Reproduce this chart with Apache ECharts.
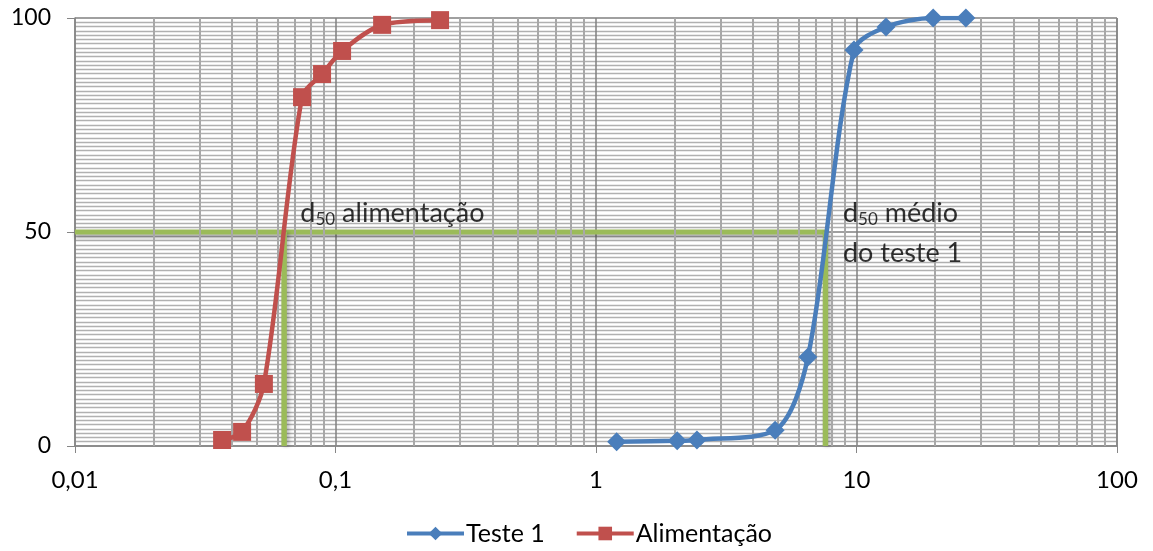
<!DOCTYPE html>
<html><head><meta charset="utf-8">
<script src="https://cdn.jsdelivr.net/npm/echarts@6/dist/echarts.min.js"></script>
<style>html,body{margin:0;padding:0;background:#fff}#c{width:1153px;height:551px}</style>
</head><body><div id="c"></div>
<script>
const teste1X = [1.20, 2.05, 2.44, 4.87, 6.51, 9.78, 12.98, 19.7, 26.3];
const teste1Y = [1.0, 1.2, 1.4, 3.7, 20.8, 92.5, 97.9, 100, 100];
const alimX = [0.0367, 0.0438, 0.0531, 0.0744, 0.0888, 0.106, 0.151, 0.252];
const alimY = [1.4, 3.3, 14.5, 81.5, 86.9, 92.3, 98.4, 99.5];
const d50Alim = 0.0635;
const d50Teste = 7.6;
const xTicks = [0.01, 0.1, 1, 10, 100];
const yTicks = [0, 50, 100];

const FONT = 'Lato';
const minorX = [];
for (let d = 0; d < xTicks.length - 1; d++) {
  for (let k = 2; k <= 9; k++) minorX.push(+(xTicks[d] * k).toPrecision(3));
}
const chart = echarts.init(document.getElementById('c'));
const green = '#9bbb59';
chart.setOption({
  animation: false,
  textStyle: {fontFamily: FONT},
  grid: {left: 75, right: 36, top: 18, bottom: 105},
  legend: {
    bottom: 0, left: 400, itemWidth: 57, itemHeight: 17, itemGap: 30,
    data: ['Teste 1', 'Alimentação'],
    lineStyle: {width: 4},
    textStyle: {fontSize: 25, color: '#000', fontFamily: FONT, padding: [0, 0, 0, -3]}
  },
  xAxis: {
    type: 'log', logBase: 10, min: 0.01, max: 100,
    axisLine: {show: true, lineStyle: {color: '#868686', width: 1.5}},
    axisTick: {show: true, length: 7, lineStyle: {color: '#868686'}},
    axisLabel: {fontSize: 24, color: '#000', margin: 22,
      formatter: v => String(+v.toPrecision(3)).replace('.', ',')},
    splitLine: {show: true, lineStyle: {color: '#808080', width: 1.5}},
    minorTick: {show: false}, minorSplitLine: {show: false}
  },
  yAxis: {
    type: 'value', min: 0, max: 100, interval: 50,
    axisLine: {show: true, lineStyle: {color: '#868686', width: 1.5}},
    axisTick: {show: true, length: 8, lineStyle: {color: '#868686'}},
    axisLabel: {fontSize: 23, color: '#000', margin: 24},
    splitLine: {show: true, lineStyle: {color: '#808080', width: 1.5}},
    minorTick: {show: false, splitNumber: 50},
    minorSplitLine: {show: true, lineStyle: {color: '#b0b0b0', width: 1.3}}
  },
  series: [
    {
      name: 'grid', type: 'line', data: [], silent: true,
      markLine: {silent: true, symbol: 'none', label: {show: false},
        lineStyle: {color: '#a8a8a8', width: 2, type: 'solid'},
        data: minorX.map(v => ({xAxis: v}))}
    },
    {
      name: 'vr', type: 'line', data: [[100, 0], [100, 100]], symbol: 'none', silent: true,
      lineStyle: {color: '#868686', width: 1.5}
    },
    {
      name: 'g1', type: 'line', data: [[0.01, 50], [d50Teste, 50]], symbol: 'none', silent: true,
      lineStyle: {color: green, width: 5, shadowColor: 'rgba(0,0,0,0.35)', shadowBlur: 4, shadowOffsetY: 3}
    },
    {
      name: 'g2', type: 'line', data: [[d50Alim, 50], [d50Alim, 0]], symbol: 'none', silent: true,
      lineStyle: {color: green, width: 5.5, shadowColor: 'rgba(0,0,0,0.3)', shadowBlur: 4, shadowOffsetX: 2}
    },
    {
      name: 'g3', type: 'line', data: [[d50Teste, 50], [d50Teste, 0]], symbol: 'none', silent: true,
      lineStyle: {color: green, width: 5.5, shadowColor: 'rgba(0,0,0,0.3)', shadowBlur: 4, shadowOffsetX: 2}
    },
    {
      name: 'Teste 1', type: 'line', smooth: 0.3, symbol: 'diamond', symbolSize: 19,
      data: teste1X.map((x, i) => [x, teste1Y[i]]),
      itemStyle: {color: '#4a7ebb'}, lineStyle: {color: '#4a7ebb', width: 4.5}, z: 5
    },
    {
      name: 'Alimentação', type: 'line', smooth: 0.3, symbol: 'rect', symbolSize: 18,
      data: alimX.map((x, i) => [x, alimY[i]]),
      itemStyle: {color: '#c0504d'}, lineStyle: {color: '#c0504d', width: 4.5}, z: 5
    },
    {
      name: 'labels', type: 'scatter', symbolSize: 0, silent: true, z: 6,
      data: [
        {value: [0.0733, 54.4], label: {formatter: '{a|d}{s|50}{a| alimentação}'}},
        {value: [8.87, 54.4], label: {formatter: '{a|d}{s|50}{a| médio}'}},
        {value: [8.87, 45.0], label: {formatter: '{a|do teste 1}'}}
      ],
      label: {show: true, position: 'right', distance: 0, align: 'left', verticalAlign: 'middle',
        rich: {
          a: {fontSize: 27, color: '#000', fontFamily: FONT},
          s: {fontSize: 17, color: '#000', fontFamily: FONT, padding: [12, 0, 0, 0]}
        }}
    }
  ]
});
</script></body></html>
